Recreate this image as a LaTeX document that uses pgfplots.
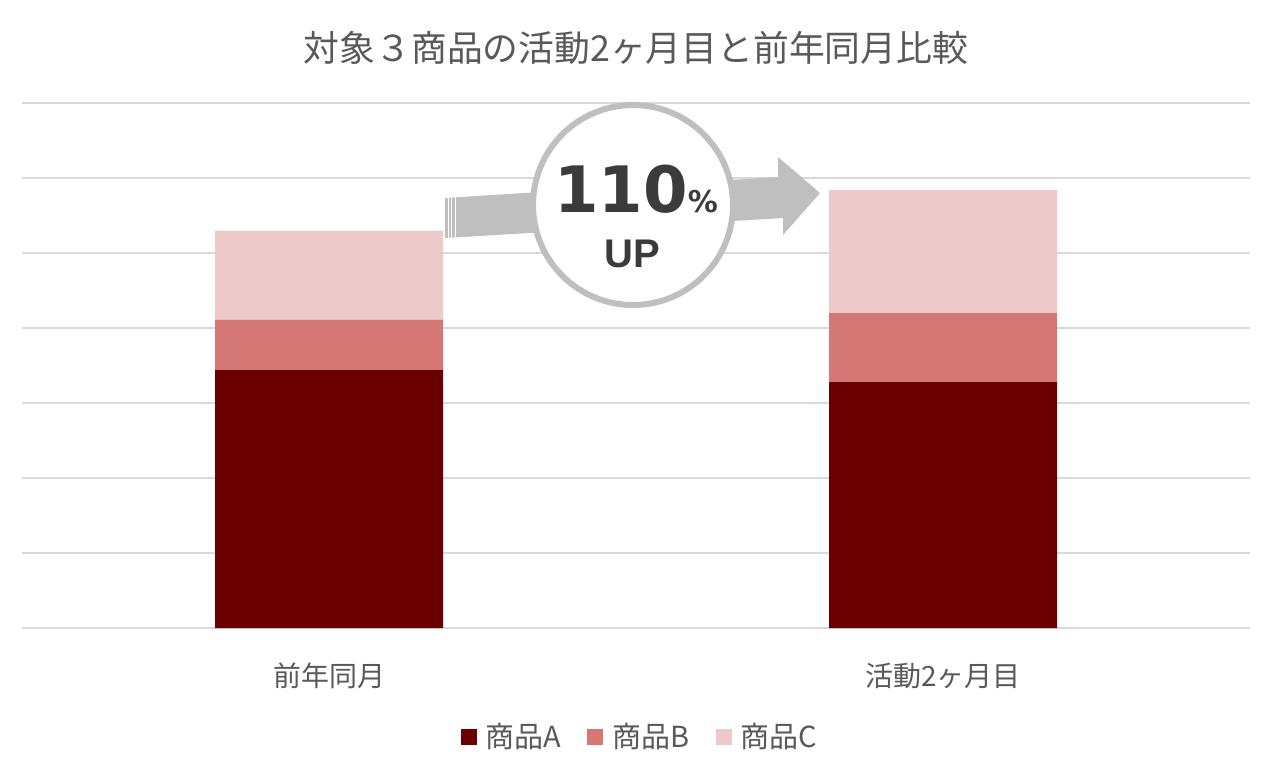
\documentclass[border=0pt]{standalone}
\usepackage{pgfplots}
\pgfplotsset{compat=1.18}
\usepackage{fontspec}
\setmainfont{Noto Sans CJK JP}
\newfontfamily\numfont{DejaVu Sans}
\newfontfamily\upfont{Liberation Sans}
\definecolor{prodA}{HTML}{6B0000}
\definecolor{prodB}{HTML}{D47775}
\definecolor{prodC}{HTML}{EDC9C9}
\definecolor{gridc}{HTML}{D9D9D9}
\definecolor{txt}{HTML}{595959}
\definecolor{arrowc}{HTML}{BFBFBF}
\definecolor{bigtxt}{HTML}{3B3B3B}
\begin{document}
\begin{tikzpicture}
\useasboundingbox (0,0) rectangle (636pt,-386.5pt);
\begin{axis}[
    at={(11pt,-314pt)}, anchor=south west,
    scale only axis,
    width=614pt, height=262.5pt,
    ybar stacked,
    bar width=114pt,
    xmin=-0.5, xmax=1.5,
    ymin=0, ymax=7,
    xtick={0,1},
    xticklabels={前年同月, 活動2ヶ月目},
    ytick={0,1,...,7},
    yticklabels={},
    ymajorgrids,
    major grid style={color=gridc, line width=1pt},
    axis line style={draw=none},
    major tick length=0pt,
    xticklabel style={font=\fontsize{14}{16}\selectfont, text=txt, anchor=center, yshift=-24pt},
    legend style={at={(0.504,-0.2076)}, anchor=center, draw=none, fill=none,
        legend columns=3, font=\fontsize{14.5}{17}\selectfont, text=txt,
        /tikz/every odd column/.append style={column sep=2.5pt},
        /tikz/every even column/.append style={column sep=11pt}},
    legend image code/.code={\fill[#1] (0pt,-4pt) rectangle (8pt,4pt);},
]
\addplot[fill=prodA, draw=none] coordinates {(0,3.44) (1,3.28)};
\addplot[fill=prodB, draw=none] coordinates {(0,0.67) (1,0.92)};
\addplot[fill=prodC, draw=none] coordinates {(0,1.19) (1,1.64)};
\legend{商品A, 商品B, 商品C}
\end{axis}
\begin{scope}[x=0.5pt, y=-0.5pt]
\node[text=txt, font=\fontsize{17.9}{20}\selectfont] at (636,48) {対象３商品の活動2ヶ月目と前年同月比較};
% arrow
\fill[arrowc] (445,198) -- (778,177) -- (778,157) -- (820,193) -- (783,235) -- (783,218) -- (445,238) -- cycle;
\foreach \xx in {448.5,451.8,455} \draw[white, line width=0.5pt] (\xx,196) -- (\xx,240);
% circle
\draw[arrowc, fill=white, line width=3pt] (633,205) circle (100);
\node[text=bigtxt, font=\numfont\bfseries\fontsize{32}{36}\selectfont, anchor=base, inner sep=0pt] at (636,212) {110{\fontsize{15}{18}\selectfont\%}};
\node[text=bigtxt, font=\upfont\bfseries\fontsize{20}{24}\selectfont, anchor=base] at (632,267) {UP};
\end{scope}
\end{tikzpicture}
\end{document}
